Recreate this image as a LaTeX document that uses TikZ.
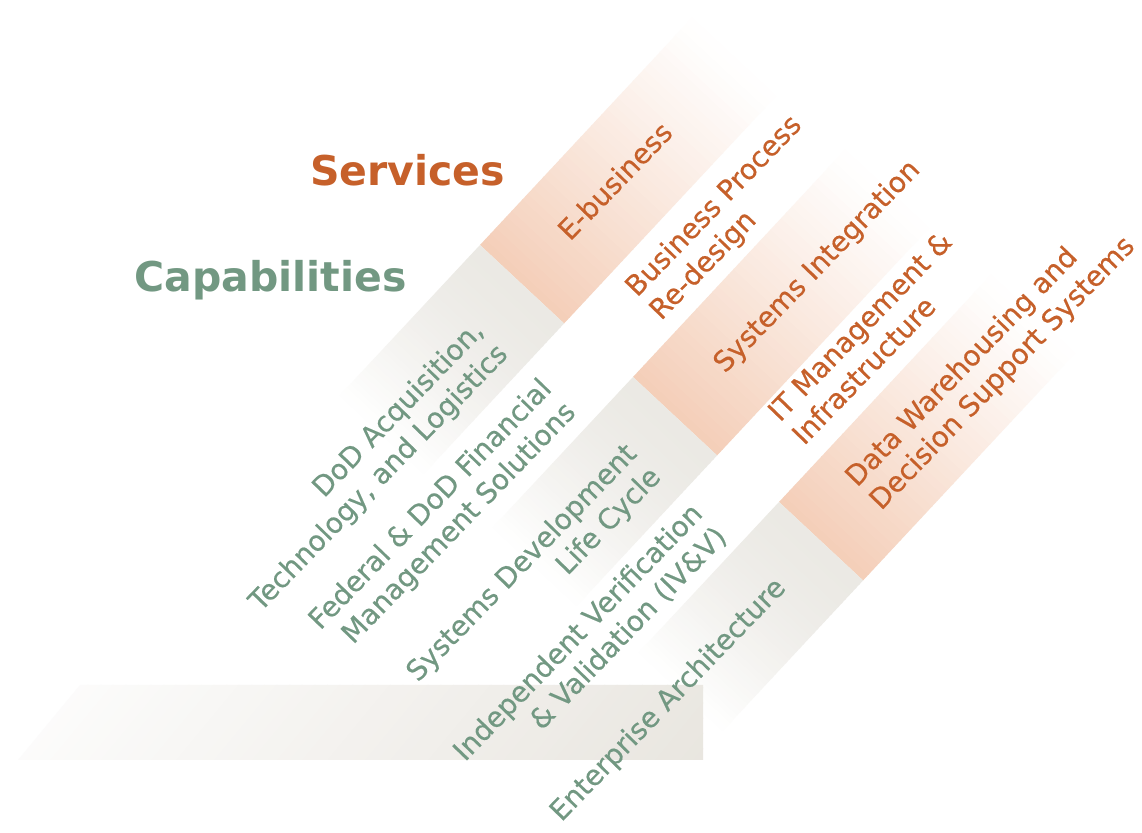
\documentclass[tikz,border=0pt]{standalone}
\usepackage{fontspec}
\setmainfont{DejaVu Sans}
\newfontfamily\labelfam{DejaVu Sans}[FakeBold=0.35]
\definecolor{svc}{RGB}{198,96,42}
\definecolor{cap}{RGB}{114,152,130}
\definecolor{peach}{RGB}{244,206,184}
\definecolor{greyb}{RGB}{235,233,228}
\definecolor{greyh}{RGB}{233,230,224}
\tikzset{
  labelfont/.style={font=\labelfam\fontsize{28}{33.5}\selectfont, inner sep=0pt, rotate=46},
  svclabel/.style={labelfont, text=svc, anchor=base west},
  caplabel/.style={labelfont, text=cap, anchor=base east},
  titlelabel/.style={font=\fontsize{41}{48}\selectfont\bfseries, inner sep=0pt, anchor=base},
}
\newcommand\drawband[2]{%
  \begin{scope}[shift={(#1,#2)}, rotate=47]
    \foreach \i in {0,...,39}{
      \pgfmathsetmacro\xa{\i*310/40}
      \pgfmathsetmacro\xb{(\i+1)*310/40+0.8}
      \pgfmathsetmacro\p{100*(1-(\i+0.5)/40)^1.1}
      \fill[peach!\p!white] (\xa,-115) rectangle (\xb,0);
    }
    \foreach \i in {0,...,39}{
      \pgfmathsetmacro\xa{-\i*205/40}
      \pgfmathsetmacro\xb{-(\i+1)*205/40-0.8}
      \pgfmathsetmacro\p{100*(1-((\i+0.5)/40)^1.6)}
      \fill[greyb!\p!white] (\xa,-115) rectangle (\xb,0);
    }
  \end{scope}}
\begin{document}
\begin{tikzpicture}[x=1pt,y=1pt]
\useasboundingbox (0,0) rectangle (1142,832);
\fill[white] (0,0) rectangle (1142,832);
% diagonal bands
\drawband{480}{587}
\drawband{633}{455}
\drawband{779}{330}
% horizontal band
\begin{scope}
  \clip (18,72) -- (703,72) -- (703,147) -- (80,147) -- cycle;
  \foreach \i in {0,...,59}{
    \pgfmathsetmacro\xa{-50+\i*12.6}
    \pgfmathsetmacro\xb{-50+(\i+1)*12.6+0.8}
    \pgfmathsetmacro\p{6+94*\i/59}
    \fill[greyh!\p!white] (\xa,72) -- (\xb,72) -- (\xb+62,147) -- (\xa+62,147) -- cycle;
  }
\end{scope}
% titles
\node[titlelabel, text=svc] (svctitle) at (407.5,646) {Services};
\node[titlelabel, text=cap] (captitle) at (270.5,540) {Capabilities};
% services labels
\node[svclabel] (s1) at (570,590) {E-business};
\node[svclabel] (s2) at (637,534) {\begin{tabular}[t]{@{}l@{}}Business Process\\Re-design\end{tabular}};
\node[svclabel] (s3) at (725,458) {Systems Integration};
\node[svclabel] (s4) at (780,409) {\begin{tabular}[t]{@{}l@{}}IT Management \&\\Infrastructure\end{tabular}};
\node[svclabel] (s5) at (857,344) {\begin{tabular}[t]{@{}l@{}}Data Warehousing and\\Decision Support Systems\end{tabular}};
% capabilities labels
\node[caplabel] (c1) at (485,500) {\begin{tabular}[t]{@{}r@{}}DoD Acquisition,\\Technology, and Logistics\end{tabular}};
\node[caplabel] (c2) at (553,442) {\begin{tabular}[t]{@{}r@{}}Federal \& DoD Financial\\Management Solutions\end{tabular}};
\node[caplabel] (c3) at (638,377) {\begin{tabular}[t]{@{}r@{}}Systems Development\\Life Cycle\end{tabular}};
\node[caplabel] (c4) at (704,317) {\begin{tabular}[t]{@{}r@{}}Independent Verification\\\& Validation (IV\&V)\end{tabular}};
\node[caplabel] (c5) at (787,243) {Enterprise Architecture};
\end{tikzpicture}
\end{document}
